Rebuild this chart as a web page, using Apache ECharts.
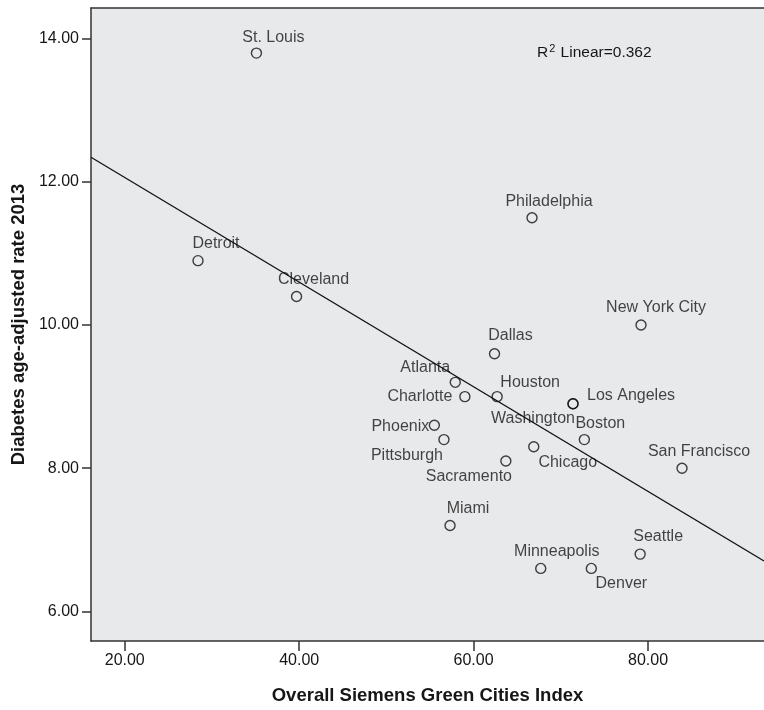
<!DOCTYPE html>
<html>
<head>
<meta charset="utf-8">
<title>Green Cities Index vs Diabetes Rate</title>
<script src="https://cdn.jsdelivr.net/npm/echarts@6/dist/echarts.min.js"></script>
<style>
  html, body { margin: 0; padding: 0; background: #ffffff; }
  #chart { width: 764px; height: 710px; }
</style>
</head>
<body>
<div id="chart"></div>
<script>
// City names, Siemens Green City Index score and age-adjusted diabetes rate (2013)
const cities = ['St. Louis', 'Detroit', 'Cleveland', 'Philadelphia', 'New York City', 'Dallas',
  'Atlanta', 'Charlotte', 'Houston', 'Los Angeles', 'Washington', 'Phoenix', 'Pittsburgh',
  'Boston', 'Chicago', 'Sacramento', 'San Francisco', 'Miami', 'Seattle', 'Minneapolis', 'Denver'];
const greenIndex = [35.1, 28.4, 39.7, 66.7, 79.2, 62.4, 57.9, 59.0, 62.7, 71.4, 71.4, 55.5, 56.6,
  72.7, 66.9, 63.7, 83.9, 57.3, 79.1, 67.7, 73.5];
const diabetesRate = [13.8, 10.9, 10.4, 11.5, 10.0, 9.6, 9.2, 9.0, 9.0, 8.9, 8.9, 8.6, 8.4,
  8.4, 8.3, 8.1, 8.0, 7.2, 6.8, 6.6, 6.6];

// Tick values shown on each axis
const xTicks = [20, 40, 60, 80];
const yTicks = [6, 8, 10, 12, 14];

// Fit statistic printed in the plot
const rSquaredText = '0.362';

// Axis extents
const X_MIN = 16.13, X_MAX = 93.3;
const Y_MIN = 5.586, Y_MAX = 14.43;

// Label placement around each marker (pixel offsets from the marker centre)
const labelOffsets = {
  'St. Louis': [17, -15], 'Detroit': [18, -17], 'Cleveland': [17, -17],
  'Philadelphia': [17, -16], 'New York City': [15, -17], 'Dallas': [16, -18],
  'Atlanta': [-30, -15], 'Charlotte': [-45, 0], 'Houston': [33, -14],
  'Los Angeles': [58, -8], 'Washington': [-40, 15], 'Phoenix': [-34, 1],
  'Pittsburgh': [-37, 16], 'Boston': [16, -16], 'Chicago': [34, 16],
  'Sacramento': [-37, 16], 'San Francisco': [17, -17], 'Miami': [18, -17],
  'Seattle': [18, -18], 'Minneapolis': [16, -17], 'Denver': [30, 15]
};

// Ordinary least-squares fit of diabetes rate on the index
function linearFit(xs, ys) {
  const n = xs.length;
  const mx = xs.reduce((a, b) => a + b, 0) / n;
  const my = ys.reduce((a, b) => a + b, 0) / n;
  let sxy = 0, sxx = 0;
  for (let i = 0; i < n; i++) {
    sxy += (xs[i] - mx) * (ys[i] - my);
    sxx += (xs[i] - mx) * (xs[i] - mx);
  }
  const slope = sxy / sxx;
  return { slope, intercept: my - slope * mx };
}
const fit = linearFit(greenIndex, diabetesRate);
const fitLine = [X_MIN, X_MAX].map(x => [x, fit.intercept + fit.slope * x]);

const FONT = '"Liberation Sans", Arial, Helvetica, sans-serif';
const INK = '#161616';
const AXIS = '#333333';

const points = cities.map((c, i) => ({
  name: c,
  value: [greenIndex[i], diabetesRate[i]],
  label: { offset: labelOffsets[c] || [17, -17] }
}));

const chart = echarts.init(document.getElementById('chart'), null, { renderer: 'canvas' });

chart.setOption({
  backgroundColor: '#ffffff',
  animation: false,
  title: {
    text: '{r|R}{sup|2}{r| Linear=' + rSquaredText + '}',
    left: 532,
    top: 37,
    textStyle: {
      fontWeight: 'normal',
      rich: {
        r: { fontFamily: FONT, fontSize: 15.5, fontWeight: 'normal', color: INK, lineHeight: 22 },
        sup: { fontFamily: FONT, fontSize: 11, fontWeight: 'normal', color: INK, padding: [0, 1, 8, 1], lineHeight: 22 }
      }
    }
  },
  grid: {
    left: 91, right: 0, top: 8, bottom: 66,
    show: true, backgroundColor: '#e8e9eb', borderWidth: 0
  },
  xAxis: [{
    type: 'value',
    min: X_MIN, max: X_MAX,
    name: 'Overall Siemens Green Cities Index',
    nameLocation: 'middle',
    nameGap: 45,
    nameTextStyle: { fontFamily: FONT, fontSize: 18.5, fontWeight: 'bold', color: INK },
    axisLine: { show: true, lineStyle: { color: AXIS, width: 1.5 } },
    axisTick: { show: true, length: 10, customValues: xTicks, lineStyle: { color: AXIS, width: 1.5 } },
    axisLabel: {
      customValues: xTicks, margin: 12,
      fontFamily: FONT, fontSize: 16, color: INK,
      formatter: v => Number(v).toFixed(2)
    },
    splitLine: { show: false }
  }, {
    type: 'value',
    position: 'top',
    min: X_MIN, max: X_MAX,
    axisLine: { show: true, lineStyle: { color: AXIS, width: 1.5 } },
    axisTick: { show: false },
    axisLabel: { show: false },
    splitLine: { show: false }
  }],
  yAxis: {
    type: 'value',
    min: Y_MIN, max: Y_MAX,
    name: 'Diabetes age-adjusted rate 2013',
    nameLocation: 'middle',
    nameRotate: 90,
    nameGap: 63,
    nameTextStyle: { fontFamily: FONT, fontSize: 18.5, fontWeight: 'bold', color: INK },
    axisLine: { show: true, lineStyle: { color: AXIS, width: 1.5 } },
    axisTick: { show: true, length: 9, customValues: yTicks, lineStyle: { color: AXIS, width: 1.5 } },
    axisLabel: {
      customValues: yTicks, margin: 12,
      fontFamily: FONT, fontSize: 16, color: INK,
      formatter: v => Number(v).toFixed(2)
    },
    splitLine: { show: false }
  },
  series: [{
    type: 'line',
    data: fitLine,
    symbol: 'none',
    silent: true,
    clip: true,
    lineStyle: { color: '#111111', width: 1.3 },
    z: 3
  }, {
    type: 'scatter',
    data: points,
    symbol: 'circle',
    symbolSize: 10,
    itemStyle: { color: 'rgba(0,0,0,0)', borderColor: '#111111', borderWidth: 1.4 },
    label: {
      show: true,
      position: 'inside',
      align: 'center',
      verticalAlign: 'middle',
      formatter: '{b}',
      fontFamily: FONT,
      fontSize: 16,
      color: INK
    },
    z: 2
  }]
});
</script>
</body>
</html>
